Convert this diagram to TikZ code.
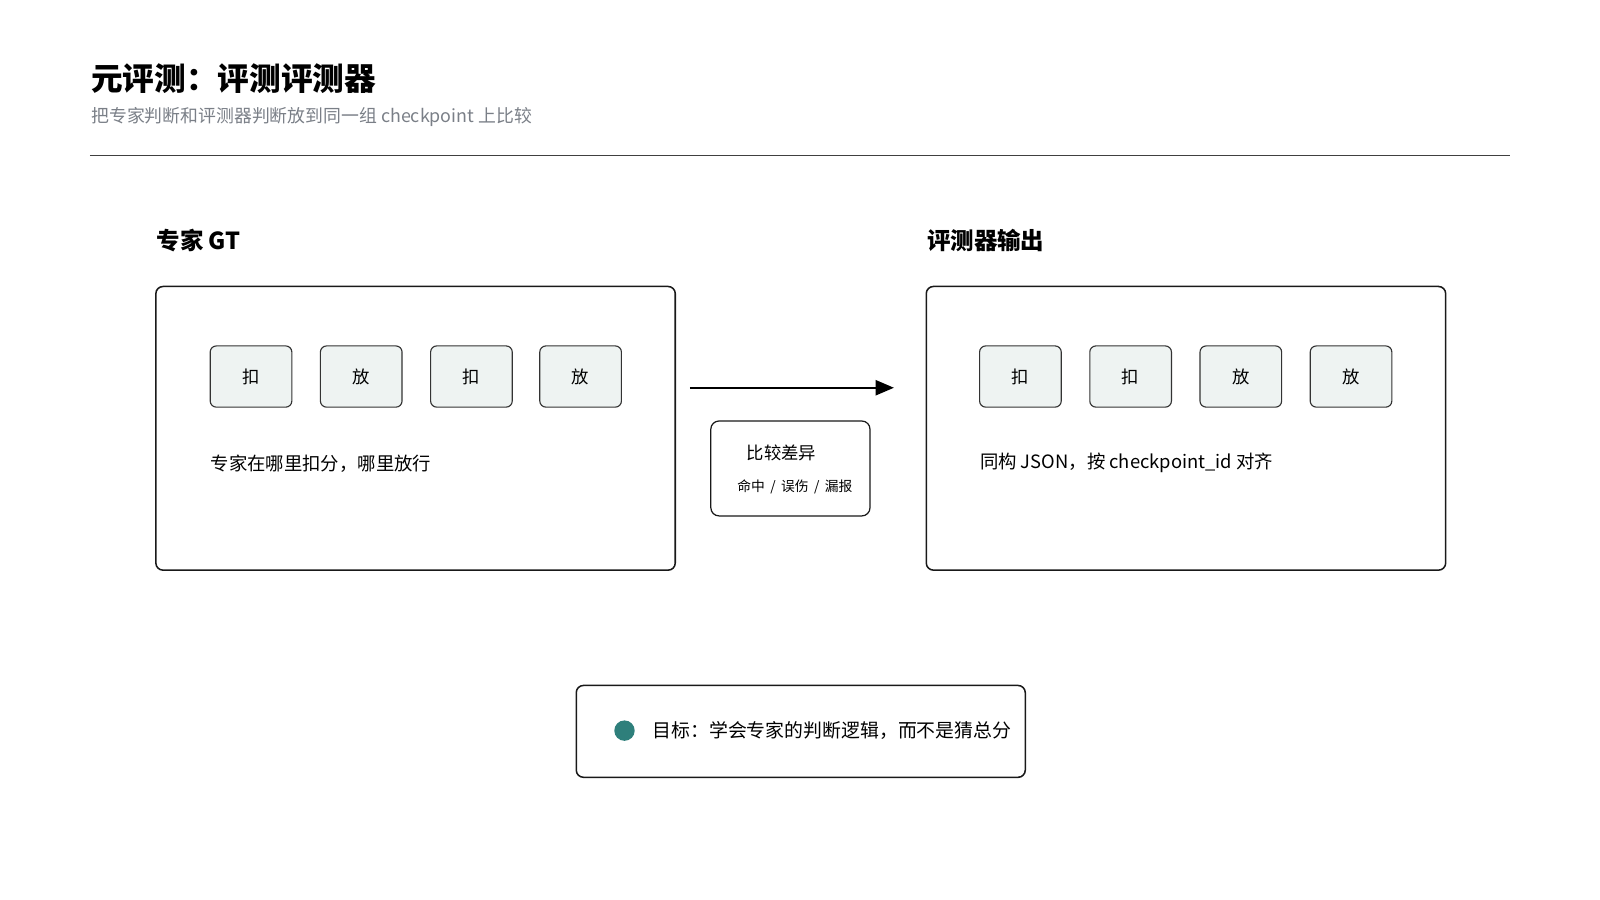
\documentclass[tikz,border=0pt]{standalone}
\usepackage{fontspec}
\setmainfont{Noto Sans CJK SC}
\usetikzlibrary{arrows.meta}
\definecolor{chip}{HTML}{EEF3F2}
\definecolor{teal}{HTML}{2E7F7B}
\definecolor{sub}{HTML}{7A7F87}
\tikzset{
 panel/.style={draw=black!90,line width=1.5pt,rounded corners=7pt},
 chip/.style={draw=black!80,line width=1.1pt,fill=chip,rounded corners=6pt,minimum width=80pt,minimum height=60pt,font=\fontsize{17}{20}\selectfont},
 lbl/.style={anchor=west,font=\fontsize{18}{22}\selectfont},
 head/.style={anchor=west,font=\fontsize{23}{28}\selectfont\bfseries},
}
\begin{document}
\begin{tikzpicture}[x=1pt,y=-1pt]
\useasboundingbox (0,0) rectangle (1568,882);
\node[anchor=west,font=\fontsize{31}{36}\selectfont\bfseries] (title) at (86,77) {元评测：评测评测器};
\node[anchor=west,text=sub,font=\fontsize{17.5}{20}\selectfont] (subt) at (86,115) {把专家判断和评测器判断放到同一组 checkpoint 上比较};
\draw[black!75,line width=1.1pt] (88,152) coordinate (l1) -- (1480,152) coordinate (l2);
\node[head] (hl) at (150,236) {专家 GT};
\node[head] (hr) at (905,236) {评测器输出};
\node[panel,minimum width=509pt,minimum height=278pt,anchor=north west] (L) at (152,280) {};
\node[panel,minimum width=509pt,minimum height=278pt,anchor=north west] (R) at (907,280) {};
\foreach \x/\t [count=\i] in {246/扣,354/放,462/扣,569/放}{\node[chip] (a\i) at (\x,369) {\t};}
\foreach \x/\t [count=\i] in {1000/扣,1108/扣,1216/放,1324/放}{\node[chip] (b\i) at (\x,369) {\t};}
\node[lbl] (tl) at (203,454) {专家在哪里扣分，哪里放行};
\node[lbl] (tr) at (957,454) {同构 JSON，按 checkpoint\_id 对齐};
\coordinate (p1) at (676,380); \coordinate (p2) at (876,380);
\draw[line width=1.6pt,-{Triangle[length=18pt,width=15pt]}] (p1) -- (p2);
\node[panel,line width=1.2pt,rounded corners=8pt,minimum width=156pt,minimum height=93pt,anchor=north west] (C) at (696,412) {};
\node[font=\fontsize{17}{20}\selectfont] (c1) at (766,444) {比较差异};
\node[font=\fontsize{13.5}{16}\selectfont] (c2) at (779,477) {命中\ \,/\ \,误伤\ \,/\ \,漏报};
\node[panel,minimum width=440pt,minimum height=90pt,anchor=north west] (G) at (564,671) {};
\node[circle,fill=teal,minimum size=20pt,inner sep=0] (dot) at (612,716) {};
\node[lbl,font=\fontsize{18.5}{22}\selectfont] (gt) at (636,716) {目标：学会专家的判断逻辑，而不是猜总分};
\end{tikzpicture}
\end{document}
